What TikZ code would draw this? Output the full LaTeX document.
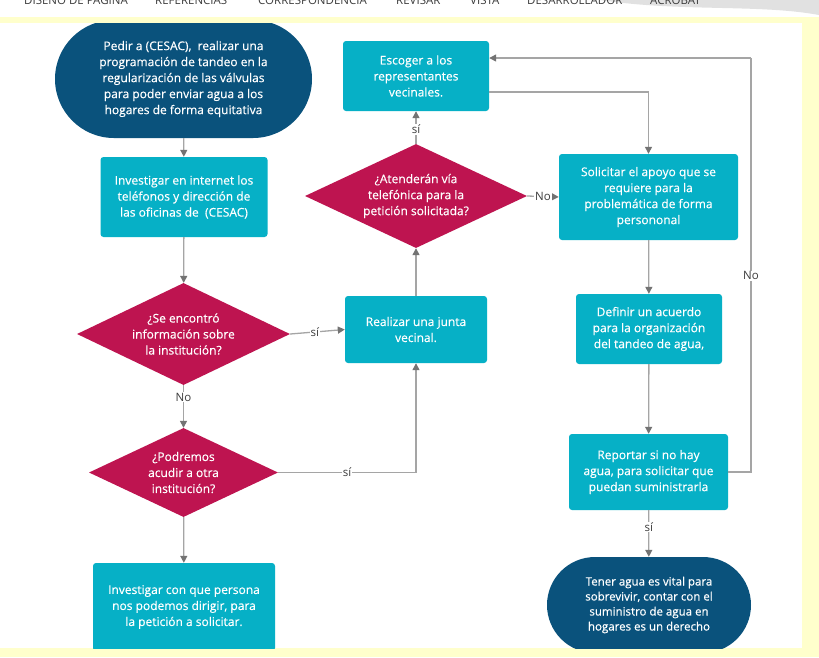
\documentclass[tikz,border=0pt]{standalone}
\usepackage{fontspec}
\setmainfont{Open Sans}
\newfontfamily\boxfont[FakeBold=0.4]{Open Sans}
\usetikzlibrary{arrows.meta,shapes.geometric}
\definecolor{navy}{RGB}{10,82,124}
\definecolor{cyanbox}{RGB}{6,176,198}
\definecolor{crimson}{RGB}{190,20,80}
\definecolor{paleyellow}{RGB}{255,255,204}
\definecolor{linegray}{RGB}{165,165,165}
\definecolor{tipgray}{RGB}{115,115,115}
\definecolor{labelgray}{RGB}{60,60,60}
\definecolor{ribbongray}{RGB}{60,60,60}
\definecolor{swooshgray}{RGB}{225,225,225}
\begin{document}
\begin{tikzpicture}[x=1pt,y=-1pt,
  every node/.style={font=\boxfont\fontsize{12}{16}\selectfont},
  terminal/.style={fill=navy, text=white, inner sep=0pt, align=center},
  procbox/.style={fill=cyanbox, text=white, rounded corners=3pt, inner sep=0pt, align=center},
  decision/.style={diamond, fill=crimson, inner sep=0pt},
  dtext/.style={text=white, align=center, inner sep=0pt},
  flow/.style={draw=linegray, line width=1.3pt, -{Triangle[length=7pt,width=7pt,color=tipgray]}},
  lbl/.style={fill=white, text=labelgray, inner sep=1pt, font=\fontsize{11.5}{12}\selectfont},
  ribbon/.style={anchor=base west, text=ribbongray, inner sep=0pt, font=\fontsize{11.5}{12}\selectfont}
]
\useasboundingbox (0,0) rectangle (819,657);
% background
\fill[paleyellow] (0,0) rectangle (819,657);
\fill[white] (0,0) rectangle (819,17);
\fill[white] (0,23) rectangle (802,648);

% ribbon strip (cut off at the top, as in the screenshot)
\begin{scope}
\clip (0,0) rectangle (819,17);
\fill[swooshgray] (600,0) .. controls (680,12) and (760,4) .. (819,15) -- (819,0) -- cycle;
\node[ribbon] (rb1) at (24,4) {DISEÑO DE PÁGINA};
\node[ribbon] (rb2) at (155,4) {REFERENCIAS};
\node[ribbon] (rb3) at (258,4) {CORRESPONDENCIA};
\node[ribbon] (rb4) at (396,4) {REVISAR};
\node[ribbon] (rb5) at (470,4) {VISTA};
\node[ribbon] (rb6) at (527,4) {DESARROLLADOR};
\node[ribbon] (rb7) at (650,4) {ACROBAT};
\end{scope}

\begin{scope}
\clip (0,23) rectangle (802,648);
% nodes
\node[terminal, rounded corners=59pt, minimum width=257pt, minimum height=118pt] (start) at (183.5,79)
  {Pedir a (CESAC), \ realizar una\\programación de tandeo en la\\regularización de las válvulas\\para poder enviar agua a los\\hogares de forma equitativa};
\node[procbox, minimum width=167pt, minimum height=80pt] (inv) at (184,197)
  {Investigar en internet los\\teléfonos y dirección de\\las oficinas de \ (CESAC)};
\node[decision, minimum width=213pt, minimum height=102pt] (d1) at (183.5,334) {};
\node[dtext] (d1t) at (d1) {¿Se encontró\\información sobre\\la institución?};
\node[procbox, minimum width=142pt, minimum height=67pt] (junta) at (416,329.5)
  {Realizar una junta\\vecinal.};
\node[decision, minimum width=189pt, minimum height=89pt] (d2) at (183.5,472.5) {};
\node[dtext] (d2t) at (d2) {¿Podremos\\acudir a otra\\institución?};
\node[procbox, minimum width=182pt, minimum height=88pt] (persona) at (184,607)
  {Investigar con que persona\\nos podemos dirigir, para\\la petición a solicitar.};
\node[decision, minimum width=222pt, minimum height=104pt] (d3) at (416,196) {};
\node[dtext] (d3t) at (d3) {¿Atenderán vía\\telefónica para la\\petición solicitada?};
\node[procbox, minimum width=146pt, minimum height=70pt] (esc) at (416,76)
  {Escoger a los\\representantes\\vecinales.};
\node[procbox, minimum width=179pt, minimum height=86pt] (sol) at (648.5,197)
  {Solicitar el apoyo que se\\requiere para la\\problemática de forma\\persononal};
\node[procbox, minimum width=146pt, minimum height=70pt] (acuerdo) at (649,329)
  {Definir un acuerdo\\para la organización\\del tandeo de agua,};
\node[procbox, minimum width=159pt, minimum height=76pt] (rep) at (648.5,472)
  {Reportar si no hay\\agua, para solicitar que\\puedan suministrarla};
\node[terminal, rounded corners=48pt, minimum width=204pt, minimum height=96pt, font=\boxfont\fontsize{11.5}{15}\selectfont] (fin) at (649,605)
  {Tener agua es vital para\\sobrevivir, contar con el\\suministro de agua en\\hogares es un derecho};

% connectors
\draw[flow] (start) -- (inv);
\draw[flow] (inv) -- (d1);
\draw[flow] (d1.east) -- node[lbl, pos=0.45] (l1) {sí} (junta.west);
\draw[flow] (d1) -- node[lbl, pos=0.28] (l2) {No} (d2);
\draw[flow] (d2.east) -| node[lbl, pos=0.25] (l3) {sí} (junta.south);
\draw[flow] (d2) -- (persona);
\draw[flow] (junta) -- (d3);
\draw[flow] (d3) -- node[lbl, pos=0.45] (l4) {sí} (esc);
\draw[flow] (d3.east) -- node[lbl] (l5) {No} (sol.west);
\draw[flow] ([yshift=-16pt]esc.east) -| (sol.north);
\coordinate (loopcorner) at (751,58);
\draw[draw=linegray, line width=1.3pt] (rep.east) -| node[lbl, pos=0.737] (l6) {No} (loopcorner);
\draw[flow] (loopcorner) -- ([yshift=18pt]esc.east);
\draw[flow] (sol) -- (acuerdo);
\draw[flow] (acuerdo) -- (rep);
\draw[flow] (rep) -- node[lbl, pos=0.36] (l7) {sí} (fin);
\end{scope}
\end{tikzpicture}
\end{document}
